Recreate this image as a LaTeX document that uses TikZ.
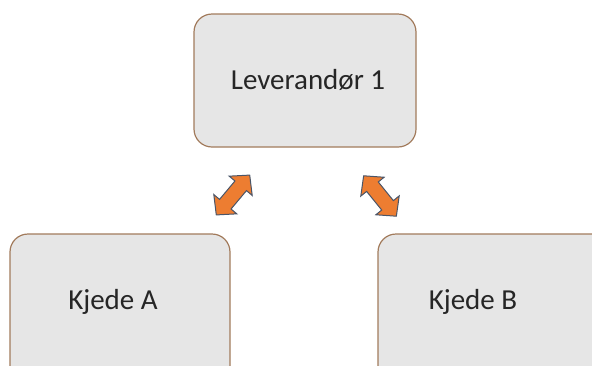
\documentclass[tikz,border=0pt]{standalone}
\usepackage{fontspec}
\setmainfont{Carlito}
\definecolor{boxfill}{HTML}{E6E6E6}
\definecolor{boxline}{HTML}{A27B5C}
\definecolor{arrfill}{HTML}{ED7D31}
\definecolor{arrline}{HTML}{4A5568}
\begin{document}
\begin{tikzpicture}[x=1pt,y=-1pt,
  box/.style={draw=boxline,fill=boxfill,line width=1.2pt,rounded corners=18pt},
  lbl/.style={font=\fontsize{29}{34}\selectfont,text=black!85,inner sep=0pt},
  dblarrow/.style={draw=arrline,fill=arrfill,line width=1pt,line join=miter}]
\useasboundingbox (0,0) rectangle (592,365);
\clip (0,0) rectangle (592,365);
\draw[box] (194,14) rectangle (416,147);
\draw[box] (10,234) rectangle (230,390);
\draw[box] (378,234) rectangle (610,390);
\node[lbl] (lev) at (308,80) {Leverandør 1};
\node[lbl] (ka) at (113,302) {Kjede A};
\node[lbl] (kb) at (473,302) {Kjede B};
\begin{scope}[shift={(233,195)},rotate=50]
\draw[dblarrow] (-26,0) -- (-12,15) -- (-12,7.5) -- (12,7.5) -- (12,15) -- (26,0) -- (12,-15) -- (12,-7.5) -- (-12,-7.5) -- (-12,-15) -- cycle;
\end{scope}
\begin{scope}[shift={(380,196)},rotate=-51]
\draw[dblarrow] (-26,0) -- (-12,15) -- (-12,7.5) -- (12,7.5) -- (12,15) -- (26,0) -- (12,-15) -- (12,-7.5) -- (-12,-7.5) -- (-12,-15) -- cycle;
\end{scope}
\end{tikzpicture}
\end{document}
